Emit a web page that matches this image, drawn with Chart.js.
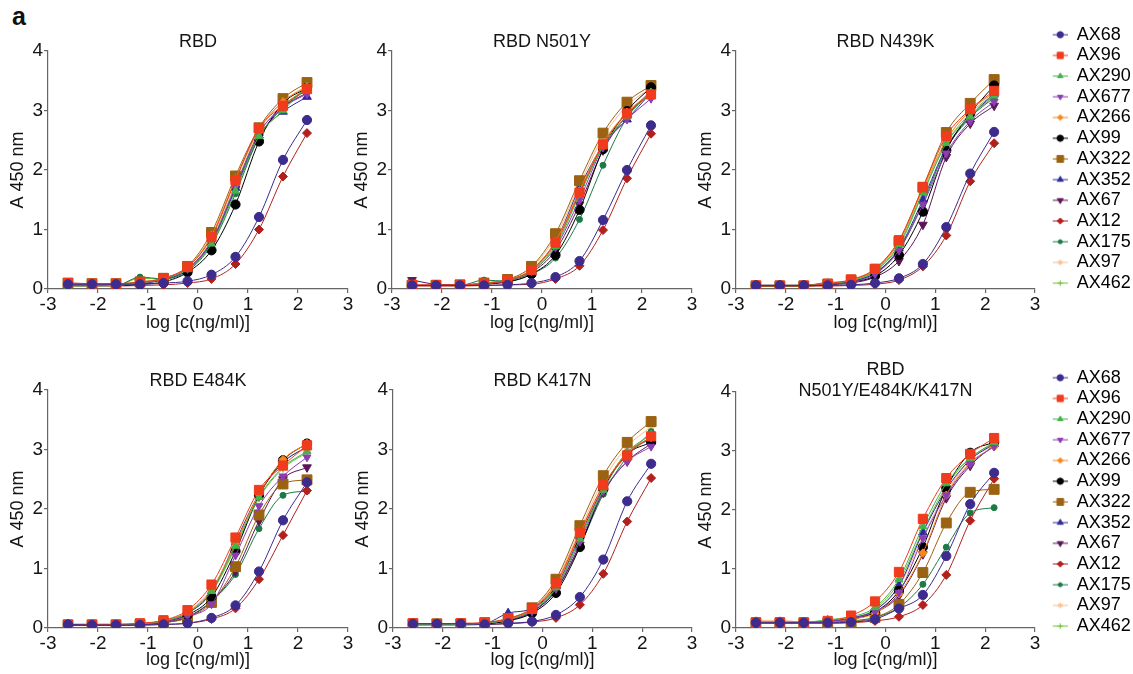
<!DOCTYPE html>
<html>
<head>
<meta charset="utf-8">
<script src="https://cdn.jsdelivr.net/npm/chart.js@4.4.1/dist/chart.umd.min.js"></script>
<style>
  html, body { margin: 0; padding: 0; background: #fff; }
  #fig { position: relative; width: 1133px; height: 674px; overflow: hidden; }
  #fig canvas { position: absolute; }
  #tag { position: absolute; left: 12px; top: 4px; font: bold 25px/1 "Liberation Sans", Arial, sans-serif; color: #111; }
</style>
</head>
<body>
<div id="fig">
  <div id="tag">a</div>
  <canvas id="p1" width="360" height="340" style="left:0;top:0"></canvas>
  <canvas id="p2" width="360" height="340" style="left:340px;top:0"></canvas>
  <canvas id="p3" width="453" height="340" style="left:680px;top:0"></canvas>
  <canvas id="p4" width="360" height="334" style="left:0;top:340px"></canvas>
  <canvas id="p5" width="360" height="334" style="left:340px;top:340px"></canvas>
  <canvas id="p6" width="453" height="334" style="left:680px;top:340px"></canvas>
</div>
<script>
// log10 of the 3-fold dilution series, 150 ng/ml down
const LOG_C = [-2.60, -2.12, -1.64, -1.16, -0.69, -0.21, 0.27, 0.75, 1.22, 1.70, 2.18];

const ANTIBODIES = ['AX68', 'AX96', 'AX290', 'AX677', 'AX266', 'AX99', 'AX322',
    'AX352', 'AX67', 'AX12', 'AX175', 'AX97', 'AX462'];

const X_TICKS = [-3, 3];
const Y_TICKS = [0, 4];

// A450 readings, one row per antibody (same order as ANTIBODIES)
const RBD_WT = [
    [0.08, 0.08, 0.08, 0.08, 0.10, 0.13, 0.24, 0.54, 1.21, 2.17, 2.84],
    [0.10, 0.09, 0.09, 0.11, 0.18, 0.37, 0.87, 1.83, 2.70, 3.08, 3.36],
    [0.05, 0.05, 0.06, 0.10, 0.17, 0.33, 0.76, 1.65, 2.57, 3.00, 3.40],
    [0.07, 0.07, 0.07, 0.10, 0.17, 0.34, 0.80, 1.72, 2.62, 3.05, 3.28],
    [0.07, 0.07, 0.07, 0.10, 0.18, 0.36, 0.90, 1.85, 2.68, 3.15, 3.40],
    [0.06, 0.06, 0.06, 0.08, 0.12, 0.28, 0.65, 1.42, 2.48, 3.12, 3.38],
    [0.10, 0.09, 0.09, 0.12, 0.18, 0.38, 0.95, 1.90, 2.71, 3.20, 3.47],
    [0.06, 0.06, 0.06, 0.09, 0.16, 0.32, 0.78, 1.70, 2.58, 2.98, 3.23],
    [0.06, 0.06, 0.06, 0.09, 0.16, 0.33, 0.80, 1.68, 2.55, 3.05, 3.30],
    [0.05, 0.05, 0.05, 0.06, 0.07, 0.10, 0.17, 0.42, 1.00, 1.89, 2.62],
    [0.06, 0.06, 0.06, 0.20, 0.17, 0.30, 0.74, 1.60, 2.55, 3.05, 3.35],
    [0.07, 0.07, 0.07, 0.12, 0.18, 0.36, 0.88, 1.82, 2.66, 3.15, 3.42],
    [0.06, 0.06, 0.06, 0.18, 0.17, 0.34, 0.82, 1.75, 2.62, 3.08, 3.38],
];

const RBD_N501Y = [
    [0.06, 0.06, 0.06, 0.06, 0.07, 0.10, 0.20, 0.47, 1.16, 2.00, 2.75],
    [0.07, 0.07, 0.07, 0.09, 0.15, 0.32, 0.78, 1.62, 2.43, 2.95, 3.27],
    [0.06, 0.06, 0.06, 0.10, 0.15, 0.30, 0.72, 1.58, 2.40, 2.90, 3.30],
    [0.06, 0.06, 0.06, 0.09, 0.14, 0.30, 0.70, 1.50, 2.38, 2.85, 3.20],
    [0.06, 0.06, 0.06, 0.09, 0.15, 0.33, 0.80, 1.65, 2.45, 2.97, 3.30],
    [0.06, 0.06, 0.06, 0.08, 0.12, 0.25, 0.57, 1.33, 2.35, 2.99, 3.39],
    [0.06, 0.06, 0.07, 0.10, 0.16, 0.38, 0.93, 1.82, 2.62, 3.14, 3.42],
    [0.06, 0.06, 0.06, 0.09, 0.15, 0.32, 0.80, 1.70, 2.42, 2.85, 3.30],
    [0.15, 0.08, 0.07, 0.09, 0.14, 0.28, 0.65, 1.42, 2.33, 2.92, 3.33],
    [0.05, 0.05, 0.05, 0.06, 0.07, 0.08, 0.17, 0.39, 0.99, 1.86, 2.61],
    [0.06, 0.06, 0.06, 0.15, 0.13, 0.25, 0.52, 1.17, 2.08, 2.88, 3.32],
    [0.06, 0.06, 0.06, 0.09, 0.16, 0.36, 0.88, 1.75, 2.55, 3.08, 3.38],
    [0.06, 0.06, 0.06, 0.10, 0.15, 0.31, 0.75, 1.60, 2.40, 2.92, 3.30],
];

const RBD_N439K = [
    [0.06, 0.06, 0.06, 0.06, 0.07, 0.10, 0.18, 0.42, 1.04, 1.94, 2.64],
    [0.06, 0.06, 0.06, 0.09, 0.16, 0.34, 0.82, 1.71, 2.57, 3.02, 3.33],
    [0.06, 0.06, 0.06, 0.10, 0.14, 0.30, 0.75, 1.62, 2.45, 2.90, 3.25],
    [0.06, 0.06, 0.06, 0.08, 0.12, 0.25, 0.65, 1.42, 2.28, 2.82, 3.15],
    [0.06, 0.06, 0.06, 0.09, 0.15, 0.32, 0.80, 1.68, 2.50, 3.00, 3.30],
    [0.06, 0.06, 0.06, 0.08, 0.12, 0.22, 0.57, 1.30, 2.33, 2.95, 3.42],
    [0.05, 0.05, 0.05, 0.08, 0.15, 0.33, 0.80, 1.71, 2.63, 3.12, 3.52],
    [0.06, 0.06, 0.06, 0.08, 0.13, 0.27, 0.68, 1.50, 2.38, 2.90, 3.28],
    [0.05, 0.05, 0.05, 0.07, 0.10, 0.20, 0.47, 1.08, 2.22, 2.78, 3.08],
    [0.05, 0.05, 0.05, 0.05, 0.06, 0.08, 0.15, 0.38, 0.90, 1.81, 2.45],
    [0.06, 0.06, 0.06, 0.11, 0.13, 0.27, 0.66, 1.45, 2.35, 2.88, 3.22],
    [0.05, 0.05, 0.05, 0.08, 0.15, 0.32, 0.78, 1.65, 2.50, 2.98, 3.18],
    [0.06, 0.06, 0.06, 0.09, 0.14, 0.30, 0.72, 1.60, 2.45, 2.95, 3.28],
];

const RBD_E484K = [
    [0.06, 0.05, 0.05, 0.05, 0.06, 0.08, 0.17, 0.38, 0.95, 1.81, 2.45],
    [0.06, 0.06, 0.06, 0.08, 0.13, 0.30, 0.73, 1.52, 2.32, 2.73, 3.07],
    [0.06, 0.06, 0.06, 0.07, 0.12, 0.26, 0.62, 1.38, 2.20, 2.70, 2.97],
    [0.05, 0.05, 0.05, 0.06, 0.10, 0.20, 0.40, 1.22, 2.05, 2.55, 2.87],
    [0.06, 0.06, 0.06, 0.07, 0.12, 0.27, 0.65, 1.42, 2.25, 2.83, 3.10],
    [0.05, 0.05, 0.05, 0.06, 0.10, 0.22, 0.52, 1.29, 2.23, 2.82, 3.10],
    [0.05, 0.05, 0.05, 0.06, 0.09, 0.17, 0.43, 1.03, 1.90, 2.42, 2.49],
    [0.06, 0.06, 0.06, 0.07, 0.12, 0.25, 0.60, 1.45, 2.25, 2.78, 3.05],
    [0.05, 0.05, 0.05, 0.06, 0.09, 0.18, 0.45, 0.95, 1.80, 2.50, 2.70],
    [0.05, 0.05, 0.05, 0.05, 0.06, 0.08, 0.15, 0.33, 0.82, 1.56, 2.31],
    [0.05, 0.05, 0.05, 0.06, 0.09, 0.19, 0.45, 0.90, 1.67, 2.23, 2.30],
    [0.06, 0.06, 0.06, 0.07, 0.12, 0.26, 0.63, 1.40, 2.22, 2.80, 3.02],
    [0.06, 0.06, 0.06, 0.07, 0.12, 0.25, 0.60, 1.35, 2.18, 2.68, 2.95],
];

const RBD_K417N = [
    [0.07, 0.07, 0.07, 0.06, 0.08, 0.11, 0.22, 0.52, 1.15, 2.13, 2.76],
    [0.08, 0.07, 0.08, 0.09, 0.16, 0.32, 0.75, 1.60, 2.40, 2.90, 3.22],
    [0.06, 0.06, 0.06, 0.08, 0.14, 0.30, 0.68, 1.50, 2.32, 2.95, 3.25],
    [0.06, 0.06, 0.06, 0.08, 0.14, 0.28, 0.66, 1.45, 2.30, 2.80, 3.05],
    [0.06, 0.06, 0.06, 0.08, 0.15, 0.33, 0.72, 1.58, 2.38, 2.95, 3.20],
    [0.06, 0.06, 0.06, 0.07, 0.12, 0.25, 0.59, 1.36, 2.33, 2.92, 3.12],
    [0.07, 0.07, 0.07, 0.09, 0.16, 0.34, 0.82, 1.72, 2.56, 3.12, 3.47],
    [0.07, 0.07, 0.07, 0.08, 0.25, 0.33, 0.70, 1.55, 2.36, 2.95, 3.18],
    [0.06, 0.06, 0.06, 0.07, 0.13, 0.27, 0.63, 1.40, 2.28, 2.80, 3.10],
    [0.05, 0.05, 0.05, 0.06, 0.07, 0.10, 0.17, 0.39, 0.91, 1.79, 2.52],
    [0.06, 0.06, 0.06, 0.07, 0.13, 0.27, 0.64, 1.38, 2.25, 2.88, 3.30],
    [0.06, 0.06, 0.06, 0.08, 0.15, 0.33, 0.78, 1.65, 2.48, 3.05, 3.38],
    [0.06, 0.06, 0.06, 0.08, 0.14, 0.30, 0.70, 1.50, 2.35, 2.92, 3.22],
];

const RBD_TRIPLE = [
    [0.09, 0.09, 0.09, 0.09, 0.10, 0.15, 0.33, 0.56, 1.22, 2.10, 2.63],
    [0.10, 0.10, 0.10, 0.12, 0.21, 0.45, 0.95, 1.85, 2.54, 2.95, 3.22],
    [0.10, 0.10, 0.10, 0.14, 0.19, 0.35, 0.83, 1.72, 2.45, 2.88, 3.15],
    [0.09, 0.09, 0.09, 0.11, 0.16, 0.28, 0.60, 1.52, 2.25, 2.78, 3.08],
    [0.09, 0.09, 0.09, 0.10, 0.15, 0.25, 0.58, 1.27, 2.25, 2.80, 3.07],
    [0.09, 0.09, 0.09, 0.11, 0.15, 0.27, 0.63, 1.37, 2.37, 2.97, 3.15],
    [0.08, 0.08, 0.08, 0.08, 0.10, 0.18, 0.40, 0.94, 1.78, 2.30, 2.35],
    [0.09, 0.09, 0.09, 0.11, 0.17, 0.30, 0.72, 1.62, 2.35, 2.85, 3.12],
    [0.09, 0.09, 0.09, 0.10, 0.15, 0.26, 0.55, 1.25, 2.20, 2.75, 3.10],
    [0.08, 0.08, 0.08, 0.08, 0.09, 0.12, 0.19, 0.39, 0.90, 1.82, 2.53],
    [0.09, 0.09, 0.09, 0.10, 0.12, 0.18, 0.35, 0.74, 1.37, 1.95, 2.04],
    [0.13, 0.13, 0.10, 0.11, 0.16, 0.30, 0.70, 1.55, 2.30, 2.85, 3.10],
    [0.10, 0.10, 0.10, 0.12, 0.17, 0.32, 0.78, 1.65, 2.40, 2.88, 3.13],
];

// styling
const FONT = '"Liberation Sans", Arial, sans-serif';
const INK = '#151515';
const AXIS = '#666666';
const COLORS = ['#3d2b8e', '#f03b1d', '#45b34a', '#8d3db3', '#f6861d', '#000000', '#9b6211',
    '#2d2a9b', '#5c1656', '#b2201d', '#1c7a46', '#f7bb8a', '#6dc23a'];
const MARKERS = [
    { style: 'circle', r: 4.6 },
    { style: 'rect', r: 6.5 },
    { style: 'triangle', r: 4.6 },
    { style: 'triangle', r: 4.6, rot: 180 },
    { style: 'rectRot', r: 4.2 },
    { style: 'circle', r: 4.6 },
    { style: 'rect', r: 7 },
    { style: 'triangle', r: 5 },
    { style: 'triangle', r: 5, rot: 180 },
    { style: 'rectRot', r: 4.5 },
    { style: 'circle', r: 3 },
    { style: 'star', r: 4, bw: 1.5 },
    { style: 'cross', r: 4, bw: 1.5 },
];

Chart.defaults.font.family = FONT;
Chart.defaults.color = INK;

// small "line + symbol" swatch used as legend point style
function legendIcon(i) {
    const c = document.createElement('canvas');
    c.width = 30;
    c.height = 16;
    const ctx = c.getContext('2d');
    ctx.strokeStyle = COLORS[i];
    ctx.fillStyle = COLORS[i];
    ctx.lineWidth = 1;
    ctx.beginPath();
    ctx.moveTo(15, 8);
    ctx.lineTo(30, 8);
    ctx.stroke();
    const m = MARKERS[i];
    if (Chart.helpers && Chart.helpers.drawPoint) {
        Chart.helpers.drawPoint(ctx, {
            pointStyle: m.style,
            radius: m.r * 0.68,
            rotation: m.rot || 0,
            borderWidth: m.bw || 1,
        }, 22.5, 8);
    } else {
        ctx.beginPath();
        ctx.arc(22.5, 8, 3, 0, Math.PI * 2);
        ctx.fill();
    }
    return c;
}

function buildPanel(canvasId, title, rows, cfg) {
    const canvas = document.getElementById(canvasId);
    const datasets = ANTIBODIES.map((name, i) => ({
        label: name,
        data: LOG_C.map((x, j) => ({ x, y: rows[i][j] })),
        borderColor: COLORS[i],
        backgroundColor: COLORS[i],
        borderWidth: 1,
        fill: false,
        cubicInterpolationMode: 'monotone',
        pointStyle: MARKERS[i].style,
        pointRadius: MARKERS[i].r,
        pointRotation: MARKERS[i].rot || 0,
        pointBorderWidth: MARKERS[i].bw || 1,
        pointBackgroundColor: COLORS[i],
        pointBorderColor: COLORS[i],
    }));

    return new Chart(canvas, {
        type: 'line',
        data: { datasets },
        options: {
            responsive: false,
            animation: false,
            events: [],
            layout: { padding: cfg.pad },
            scales: {
                x: {
                    type: 'linear',
                    min: X_TICKS[0],
                    max: X_TICKS[1],
                    ticks: { stepSize: 1, color: INK, font: { size: 19, lineHeight: 1 }, padding: 2, maxRotation: 0, autoSkip: false },
                    grid: { display: true, drawOnChartArea: false, drawTicks: true, tickLength: 4, color: AXIS, lineWidth: 1.2 },
                    border: { display: true, color: AXIS, width: 1.2 },
                    title: { display: true, text: 'log [c(ng/ml)]', color: INK, font: { size: 18, lineHeight: 1.2 }, padding: { top: 0, bottom: cfg.xTitlePad } },
                    afterFit: (s) => { s.height = cfg.xHeight; s.paddingLeft = 0; s.paddingRight = 0; },
                },
                y: {
                    min: Y_TICKS[0],
                    max: Y_TICKS[1],
                    ticks: { stepSize: 1, color: INK, font: { size: 19, lineHeight: 1 }, padding: 1 },
                    grid: { display: true, drawOnChartArea: false, drawTicks: true, tickLength: 4, color: AXIS, lineWidth: 1.2 },
                    border: { display: true, color: AXIS, width: 1.2 },
                    title: { display: true, text: 'A 450 nm', color: INK, font: { size: 18, lineHeight: 1.2 }, padding: { top: 5.7, bottom: 0 } },
                    afterFit: (s) => { s.width = 46; s.paddingTop = 0; s.paddingBottom = 0; },
                },
            },
            plugins: {
                tooltip: { enabled: false },
                title: {
                    display: true,
                    text: title,
                    fullSize: false,
                    color: INK,
                    font: { size: 18, weight: 'normal', lineHeight: cfg.titleLH || 1 },
                    padding: cfg.titlePad,
                },
                legend: cfg.legend ? {
                    display: true,
                    position: 'right',
                    align: 'start',
                    fullSize: true,
                    maxWidth: 96,
                    labels: {
                        usePointStyle: true,
                        pointStyleWidth: 30,
                        padding: 2.7,
                        color: INK,
                        font: { size: 18, lineHeight: 1 },
                        generateLabels: (chart) => chart.data.datasets.map((ds, i) => ({
                            text: ds.label,
                            pointStyle: legendIcon(i),
                            fillStyle: COLORS[i],
                            strokeStyle: COLORS[i],
                            lineWidth: 0,
                            hidden: false,
                            datasetIndex: i,
                        })),
                    },
                } : { display: false },
            },
        },
    });
}

buildPanel('p1', 'RBD', RBD_WT, {
    pad: { left: 2, right: 12, top: 0, bottom: 0 },
    titlePad: { top: 33, bottom: 0 }, xHeight: 51, xTitlePad: 6.2,
});
buildPanel('p2', 'RBD N501Y', RBD_N501Y, {
    pad: { left: 6, right: 8, top: 0, bottom: 0 },
    titlePad: { top: 33, bottom: 0 }, xHeight: 51, xTitlePad: 6.2,
});
buildPanel('p3', 'RBD N439K', RBD_N439K, {
    pad: { left: 10, right: 2, top: 23, bottom: 0 },
    titlePad: { top: 10, bottom: 0 }, xHeight: 51, xTitlePad: 6.2, legend: true,
});
buildPanel('p4', 'RBD E484K', RBD_E484K, {
    pad: { left: 2, right: 12, top: 0, bottom: 0 },
    titlePad: { top: 32, bottom: 0 }, xHeight: 46, xTitlePad: 3.2,
});
buildPanel('p5', 'RBD K417N', RBD_K417N, {
    pad: { left: 7, right: 8, top: 0, bottom: 0 },
    titlePad: { top: 32, bottom: 0 }, xHeight: 46, xTitlePad: 3.2,
});
buildPanel('p6', ['RBD', 'N501Y/E484K/K417N'], RBD_TRIPLE, {
    pad: { left: 10, right: 2, top: 26, bottom: 0 },
    titlePad: { top: -6.5, bottom: -9.5 }, titleLH: 21 / 18, xHeight: 46, xTitlePad: 3.2, legend: true,
});
</script>
</body>
</html>
